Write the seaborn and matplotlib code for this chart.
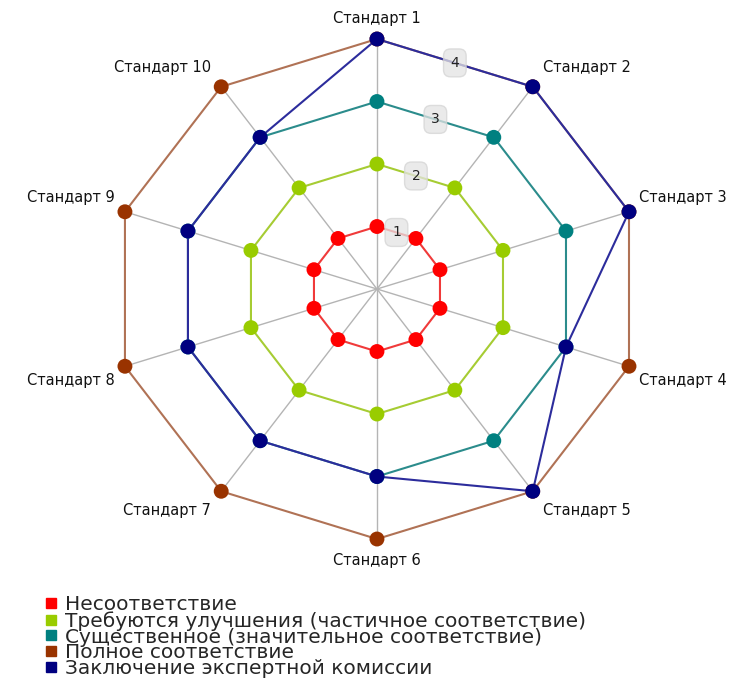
import matplotlib
matplotlib.use("Agg")
import matplotlib.pyplot as plt
from matplotlib.lines import Line2D
import numpy as np
import pandas as pd
import seaborn as sns

# categories (spokes), clockwise from the top
standards = ["Стандарт 1", "Стандарт 2", "Стандарт 3", "Стандарт 4", "Стандарт 5",
             "Стандарт 6", "Стандарт 7", "Стандарт 8", "Стандарт 9", "Стандарт 10"]
levels = [1, 2, 3, 4]

series_names = [
    "Несоответствие",
    "Требуются улучшения (частичное соответствие)",
    "Существенное (значительное соответствие)",
    "Полное соответствие",
    "Заключение экспертной комиссии",
]
nesootvetstvie = [1, 1, 1, 1, 1, 1, 1, 1, 1, 1]
uluchsheniya = [2, 2, 2, 2, 2, 2, 2, 2, 2, 2]
sushchestvennoe = [3, 3, 3, 3, 3, 3, 3, 3, 3, 3]
polnoe = [4, 4, 4, 4, 4, 4, 4, 4, 4, 4]
zaklyuchenie = [4, 4, 4, 3, 4, 3, 3, 3, 3, 3]

marker_colors = ["#ff0000", "#99cc00", "#008080", "#993300", "#000080"]
line_colors = ["#f03a3a", "#a6cc33", "#2b8c8c", "#b07255", "#2c2c9c"]


def build_frame(names, values, close=True):
    n = len(standards)
    theta = np.linspace(0, 2 * np.pi, n + 1)
    rows = []
    for name, vals in zip(names, values):
        idx = list(range(n)) + ([0] if close else [])
        for k, i in enumerate(idx):
            rows.append({"series": name, "theta": theta[k], "value": vals[i]})
    return pd.DataFrame(rows), theta[:-1]


all_values = [nesootvetstvie, uluchsheniya, sushchestvennoe, polnoe, zaklyuchenie]
lines_df, angles = build_frame(series_names, all_values, close=True)
points_df, _ = build_frame(series_names, all_values, close=False)

sns.set_theme(style="white")
plt.rcParams["font.family"] = ["DejaVu Sans"]

fig = plt.figure(figsize=(7.45, 6.93), dpi=100)
ax = fig.add_axes([0.1503, 0.2222, 0.7114, 0.7215], projection="polar")
ax.set_theta_zero_location("N")
ax.set_theta_direction(-1)

sns.lineplot(data=lines_df, x="theta", y="value", hue="series", hue_order=series_names,
             palette=line_colors, sort=False, estimator=None, linewidth=1.5,
             legend=False, ax=ax, zorder=2, clip_on=False)
sns.scatterplot(data=points_df, x="theta", y="value", hue="series", hue_order=series_names,
                palette=marker_colors, s=115, linewidth=0, legend=False, ax=ax,
                zorder=3, clip_on=False)

ax.set_ylim(0, 4)
ax.set_xticks(angles)
ax.set_xticklabels([])
ax.set_yticks([])
ax.set_xlabel("")
ax.set_ylabel("")
ax.spines["polar"].set_visible(False)
ax.grid(axis="x", color="#b4b4b4", linewidth=1)
ax.set_aspect("auto")

# level labels sit on the midpoint of each polygon edge between Стандарт 1 and 2
half = np.pi / len(standards)
for v in levels:
    ax.text(half, v * np.cos(half), str(v), fontsize=10, ha="center", va="center",
            color="#222222", zorder=4,
            bbox=dict(boxstyle="round,pad=0.5", fc="#e4e4e4", ec="#d4d4d4", alpha=0.75))

for name, ang in zip(standards, angles):
    s, c = np.sin(ang), np.cos(ang)
    dy = np.sign(c) * (11 + 10 * abs(c))
    if abs(s) < 0.1:
        ha, dx = "center", 0
    else:
        ha, dx = ("left", 10) if s > 0 else ("right", -10)
    ax.annotate(name, xy=(ang, 4), xytext=(dx, dy), textcoords="offset pixels",
                ha=ha, va="center", fontsize=10.5, color="#111111")

handles = [Line2D([], [], marker="s", ls="", color=c, markersize=6.5) for c in marker_colors]
fig.legend(handles, series_names, loc="upper left", bbox_to_anchor=(0.058, 0.141),
           frameon=False, fontsize=14.5, labelspacing=-0.16, handletextpad=0.3,
           handlelength=0.8, borderpad=0, borderaxespad=0)

fig.savefig("out.png", dpi=100)
